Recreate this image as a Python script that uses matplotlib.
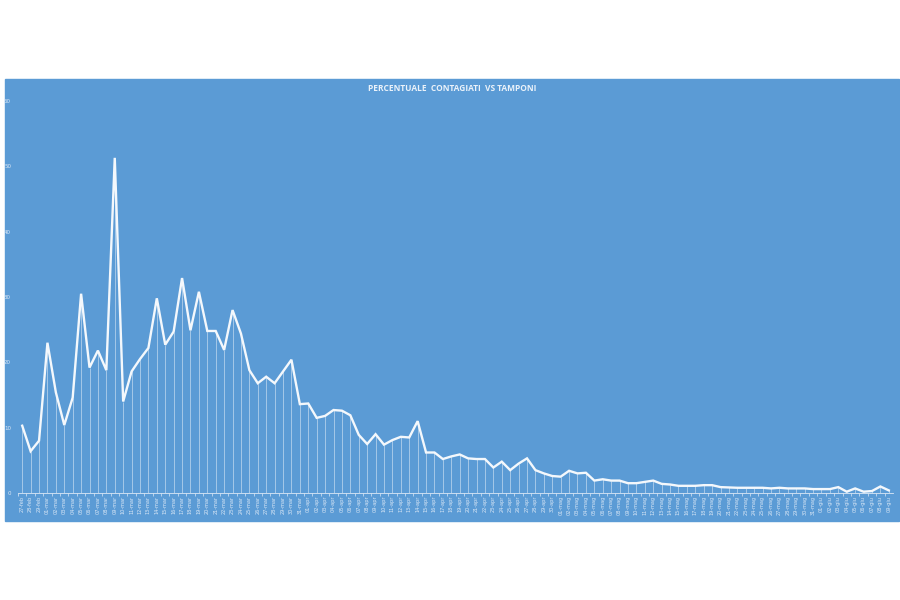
import matplotlib
matplotlib.use("Agg")
import matplotlib.pyplot as plt
from matplotlib.patches import Rectangle

# month name, first day, last day shown
months = [("feb", 27, 29), ("mar", 1, 31), ("apr", 1, 30), ("mag", 1, 31), ("giu", 1, 9)]
date_labels = [f"{d:02d}-{m}" for m, a, b in months for d in range(a, b + 1)]

# percentuale contagiati / tamponi
perc = [10.3, 6.4, 8.0, 23.0, 15.4, 10.4, 14.6, 30.5, 19.2, 21.8,
        18.8, 51.3, 14.0, 18.6, 20.5, 22.2, 29.8, 22.7, 24.7, 32.9,
        24.9, 30.8, 24.8, 24.8, 21.9, 28.0, 24.4, 18.8, 16.8, 17.8,
        16.8, 18.6, 20.4, 13.6, 13.7, 11.5, 11.8, 12.7, 12.6, 11.9,
        8.9, 7.5, 9.0, 7.4, 8.1, 8.6, 8.5, 11.0, 6.2, 6.2,
        5.2, 5.6, 5.9, 5.3, 5.2, 5.2, 3.9, 4.8, 3.5, 4.5,
        5.3, 3.5, 3.0, 2.6, 2.5, 3.4, 3.0, 3.1, 1.9, 2.1,
        1.9, 1.9, 1.5, 1.5, 1.7, 1.9, 1.4, 1.3, 1.1, 1.1,
        1.1, 1.2, 1.2, 0.9, 0.85, 0.8, 0.8, 0.8, 0.8, 0.7,
        0.8, 0.7, 0.7, 0.7, 0.6, 0.6, 0.6, 0.9, 0.2, 0.7,
        0.2, 0.3, 1.0, 0.4]
yticks = [0, 10, 20, 30, 40, 50, 60]

blue = "#5B9BD5"
light = "#dbe8f6"
x = list(range(len(perc)))

fig = plt.figure(figsize=(9, 6), dpi=100)
fig.patches.append(Rectangle((5/900, 1-521/600), 894/900, 442/600,
                             transform=fig.transFigure, color=blue, zorder=-5))
ax = fig.add_axes([18/900, 1-493/600, 875/900, 392/600])
ax.set_zorder(2)
ax.patch.set_alpha(0)

ax.vlines(x, 0, perc, color="white", alpha=0.45, lw=0.7)
ax.plot(x, perc, color="#f4f8fc", lw=1.7, solid_joinstyle="miter")

ax.set_xlim(-0.5, len(perc) - 0.5)
ax.set_ylim(0, 60)
ax.set_yticks(yticks)
ax.set_yticklabels([str(v) for v in yticks], fontsize=4, color=light)
ax.set_xticks(x)
ax.set_xticklabels(date_labels, rotation=90, fontsize=3.6, color=light)
ax.set_xticks([i + 0.5 for i in x[:-1]] + [-0.5], minor=True)
ax.tick_params(axis="x", which="major", length=0, pad=2)
ax.tick_params(axis="x", which="minor", length=2.5, color=light, width=0.5)
ax.tick_params(axis="y", length=0, pad=5)
for s in ["top", "right", "left"]:
    ax.spines[s].set_visible(False)
ax.spines["bottom"].set_color(light)
ax.spines["bottom"].set_linewidth(0.6)

fig.text(452/900, 1-88/600, "PERCENTUALE  CONTAGIATI  VS TAMPONI", ha="center", va="center",
         fontsize=6, fontweight="bold", color="#eaf2fa", family="Open Sans", zorder=3)

fig.savefig("out.png", dpi=100, facecolor="white")
